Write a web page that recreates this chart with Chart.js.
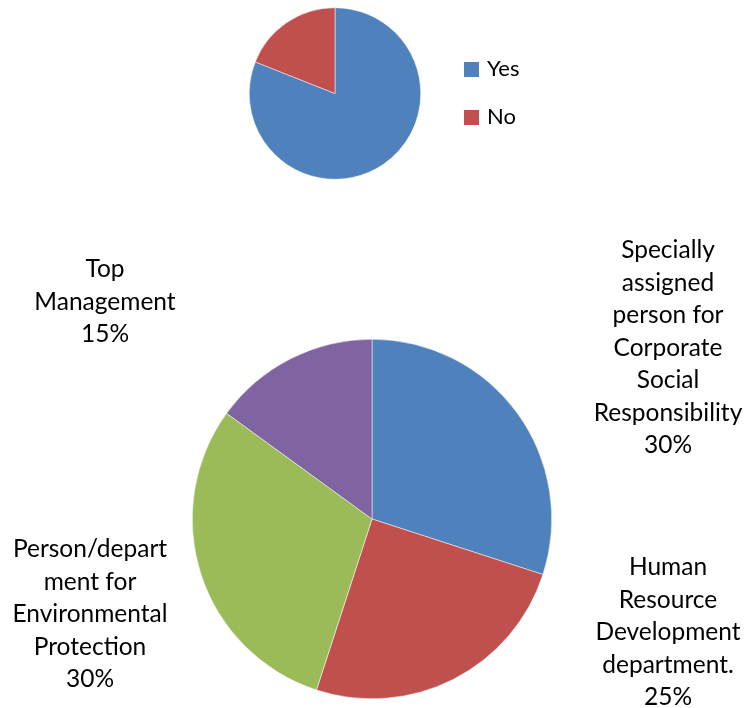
<!DOCTYPE html>
<html>
<head>
<meta charset="utf-8">
<script src="https://cdn.jsdelivr.net/npm/chart.js@4"></script>
<style>
  html, body { margin: 0; padding: 0; background: #fff; }
  body { width: 746px; height: 708px; position: relative; overflow: hidden; font-family: Lato, 'Open Sans', sans-serif; }
  #top-wrap { position: absolute; left: 0; top: 0; width: 746px; height: 200px; }
  #bottom-wrap { position: absolute; left: 0; top: 200px; width: 746px; height: 508px; }
  #legend { position: absolute; left: 464px; top: 56px; }
  #legend .row { position: relative; height: 48px; font-size: 22px; color: #000; }
  #legend .box { position: absolute; left: 0; top: 6px; width: 15px; height: 15px; }
  #legend .txt { position: absolute; left: 23px; top: -1px; line-height: 26px; }
</style>
</head>
<body>
<div id="top-wrap"><canvas id="chart-yesno"></canvas></div>
<div id="legend"></div>
<div id="bottom-wrap"><canvas id="chart-resp"></canvas></div>
<script>
// Frage 1: ja / nein
const YESNO_LABELS = ['Yes', 'No'];
const YESNO_VALUES = [81, 19];
const YESNO_COLORS = ['#4F81BD', '#C0504D'];

// Frage 2: wer ist zuständig (Anteile in %)
const RESP_LABELS = [
  ['Specially', 'assigned', 'person for', 'Corporate', 'Social', 'Responsibility'],
  ['Human', 'Resource', 'Development', 'department.'],
  ['Person/depart', 'ment for', 'Environmental', 'Protection'],
  ['Top', 'Management'],
];
const RESP_VALUES = [30, 25, 30, 15];
const RESP_COLORS = ['#4F81BD', '#C0504D', '#9BBB59', '#8064A2'];

// Lage der Beschriftungen relativ zur Kreismitte (erste Grundlinie)
const LABEL_OFFSETS = [[296, -261], [296, 56], [-282, 38], [-267, -242]];
const LINE_HEIGHT = 32.5;
const FONT = '24.5px Lato, "Open Sans", sans-serif';

new Chart(document.getElementById('chart-yesno'), {
  type: 'pie',
  data: {
    labels: YESNO_LABELS,
    datasets: [{ data: YESNO_VALUES, backgroundColor: YESNO_COLORS, borderWidth: 0.5, borderColor: '#fff' }],
  },
  options: {
    responsive: true,
    maintainAspectRatio: false,
    animation: false,
    layout: { padding: { left: 249, right: 325, top: 7, bottom: 20 } },
    plugins: { legend: { display: false }, tooltip: { enabled: false } },
  },
});

// Legende als HTML
const legendEl = document.getElementById('legend');
YESNO_LABELS.forEach((label, i) => {
  const row = document.createElement('div');
  row.className = 'row';
  row.innerHTML = `<span class="box" style="background:${YESNO_COLORS[i]}"></span><span class="txt">${label}</span>`;
  legendEl.appendChild(row);
});

const outsideLabels = {
  id: 'outsideLabels',
  afterDraw(chart) {
    const { ctx, chartArea } = chart;
    const cx = (chartArea.left + chartArea.right) / 2;
    const cy = (chartArea.top + chartArea.bottom) / 2;
    const values = chart.data.datasets[0].data;
    const total = values.reduce((a, b) => a + b, 0);
    ctx.save();
    ctx.font = FONT;
    ctx.fillStyle = '#000';
    ctx.textAlign = 'center';
    ctx.textBaseline = 'alphabetic';
    chart.data.labels.forEach((lines, i) => {
      const pct = Math.round(values[i] / total * 100) + '%';
      const [dx, dy] = LABEL_OFFSETS[i];
      [...lines, pct].forEach((line, k) => {
        ctx.fillText(line, cx + dx, cy + dy + k * LINE_HEIGHT);
      });
    });
    ctx.restore();
  },
};

new Chart(document.getElementById('chart-resp'), {
  type: 'pie',
  data: {
    labels: RESP_LABELS,
    datasets: [{ data: RESP_VALUES, backgroundColor: RESP_COLORS, borderWidth: 0.5, borderColor: '#fff' }],
  },
  options: {
    responsive: true,
    maintainAspectRatio: false,
    animation: false,
    layout: { padding: { left: 192, right: 194, top: 138, bottom: 8 } },
    plugins: { legend: { display: false }, tooltip: { enabled: false } },
  },
  plugins: [outsideLabels],
});
</script>
</body>
</html>
